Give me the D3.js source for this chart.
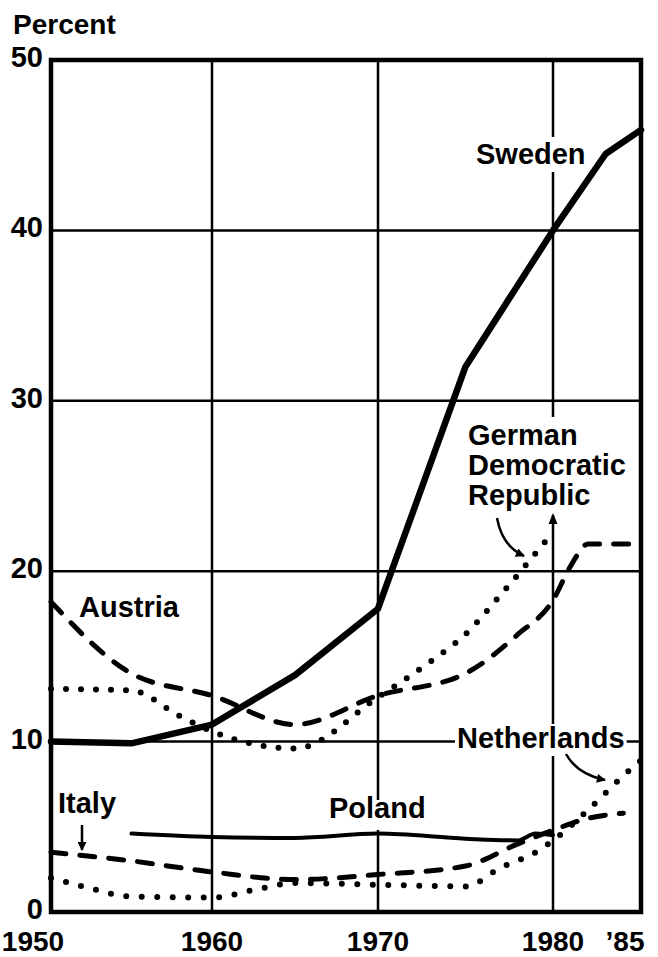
<!DOCTYPE html>
<html>
<head>
<meta charset="utf-8">
<script src="https://cdn.jsdelivr.net/npm/d3@7"></script>
<style>
  html, body { margin: 0; padding: 0; background: #fff; }
  svg { display: block; }
  text { font-family: "Liberation Sans", Arial, Helvetica, sans-serif; font-weight: bold; fill: #000; }
</style>
</head>
<body>
<script>
// ---------- data ----------
const xTickYears = [1950, 1960, 1970, 1980, 1985];
const xTickLabels = ["1950", "1960", "1970", "1980", "\u201985"];
const yTicks = [0, 10, 20, 30, 40, 50];
const xGridYears = [1960, 1970, 1980];
const yGridValues = [10, 20, 30, 40];

const swedenYears  = [1950, 1955, 1960, 1965, 1970, 1975, 1980, 1982, 1983, 1985];
const swedenValues = [10.0, 9.9, 11.0, 13.9, 17.8, 32.0, 40.0, 43.0, 44.5, 45.9];

const austriaYears  = [1950, 1955, 1960, 1965, 1970, 1975, 1978, 1980, 1981, 1982, 1985];
const austriaValues = [18.2, 14.0, 12.7, 11.0, 12.7, 14.0, 16.3, 18.3, 20.3, 21.6, 21.6];

const gdrYears  = [1950, 1955, 1958, 1960, 1965, 1970, 1973, 1975, 1977, 1980];
const gdrValues = [13.1, 13.0, 11.5, 10.6, 9.6, 12.6, 14.7, 16.3, 18.6, 22.3];

const italyYears  = [1950, 1955, 1960, 1965, 1970, 1975, 1978, 1980, 1982, 1984];
const italyValues = [3.5, 3.0, 2.35, 1.9, 2.2, 2.7, 4.0, 4.8, 5.5, 5.8];

const netherlandsYears  = [1950, 1952, 1955, 1960, 1963, 1965, 1970, 1975, 1977, 1979, 1980, 1982, 1984, 1985];
const netherlandsValues = [2.0, 1.5, 0.9, 0.85, 1.4, 1.7, 1.6, 1.5, 2.6, 3.5, 4.2, 6.0, 8.0, 8.9];

const polandYears  = [1955, 1960, 1965, 1970, 1975, 1978, 1979, 1980];
const polandValues = [4.6, 4.4, 4.35, 4.6, 4.3, 4.2, 4.6, 4.5];

// ---------- layout ----------
const W = 658, H = 957;
const x = d3.scaleLinear().domain([1950, 1960, 1970, 1980, 1985]).range([51, 212, 378, 553, 641]);
const y = d3.scaleLinear().domain([0, 50]).range([912, 60]);

const svg = d3.select("body").append("svg").attr("width", W).attr("height", H);
svg.append("rect").attr("width", W).attr("height", H).attr("fill", "#fff");

const defs = svg.append("defs");
defs.append("marker").attr("id", "arrow")
  .attr("viewBox", "0 0 10 10").attr("refX", 9).attr("refY", 5)
  .attr("markerWidth", 10).attr("markerHeight", 9)
  .attr("markerUnits", "userSpaceOnUse").attr("orient", "auto")
  .append("path").attr("d", "M0,0 L10,5 L0,10 z").attr("fill", "#000");

const gGrid = svg.append("g");
const gBg = svg.append("g");
const gLines = svg.append("g");
const gLabels = svg.append("g");
const gFrame = svg.append("g");

// grid
gGrid.selectAll("line.v").data(xGridYears).join("line")
  .attr("x1", d => x(d)).attr("x2", d => x(d)).attr("y1", y(50)).attr("y2", y(0))
  .attr("stroke", "#000").attr("stroke-width", 2.5);
gGrid.selectAll("line.h").data(yGridValues).join("line")
  .attr("x1", x(1950)).attr("x2", x(1985)).attr("y1", d => y(d)).attr("y2", d => y(d))
  .attr("stroke", "#000").attr("stroke-width", 2.5);

// series
function series(years, values) { return years.map((yr, i) => [yr, values[i]]); }
const lineLinear = d3.line().x(d => x(d[0])).y(d => y(d[1]));
const lineSmooth = d3.line().x(d => x(d[0])).y(d => y(d[1])).curve(d3.curveMonotoneX);

const seriesDefs = [
  { data: series(swedenYears, swedenValues), gen: lineLinear, w: 6.5, dash: null },
  { data: series(polandYears, polandValues), gen: lineSmooth, w: 4, dash: null },
  { data: series(austriaYears, austriaValues), gen: lineSmooth, w: 5, dash: "15 14" },
  { data: series(italyYears, italyValues), gen: lineSmooth, w: 5, dash: "15 14" },
  { data: series(gdrYears, gdrValues), gen: lineSmooth, w: 6, dash: "0 15" },
  { data: series(netherlandsYears, netherlandsValues), gen: lineSmooth, w: 6, dash: "0 15.5" },
];
seriesDefs.forEach(s => {
  gLines.append("path").attr("d", s.gen(s.data))
    .attr("fill", "none").attr("stroke", "#000").attr("stroke-width", s.w)
    .attr("stroke-linecap", "round").attr("stroke-linejoin", "round")
    .attr("stroke-dasharray", s.dash);
});

// labels with knock-out backgrounds
const labels = [
  { lines: ["Sweden"], x: 476, y: 164, pt: 1, pb: 2 },
  { lines: ["German", "Democratic", "Republic"], x: 468, y: 445, lh: 30, pt: 2, pb: 4 },
  { lines: ["Austria"], x: 79, y: 617, pt: 0, pb: 0 },
  { lines: ["Netherlands"], x: 457, y: 748, pt: -2, pb: 2 },
  { lines: ["Italy"], x: 58, y: 813, pt: 0, pb: 0 },
  { lines: ["Poland"], x: 329, y: 818, pt: -8, pb: 6 },
];
labels.forEach(l => {
  const t = gLabels.append("text").attr("x", l.x).attr("y", l.y).attr("font-size", 29);
  l.lines.forEach((ln, i) => {
    t.append("tspan").attr("x", l.x).attr("dy", i === 0 ? 0 : (l.lh || 30)).text(ln);
  });
  const b = t.node().getBBox();
  gBg.append("rect").attr("x", b.x - 2).attr("y", b.y - l.pt)
    .attr("width", b.width + 4).attr("height", b.height + l.pt + l.pb).attr("fill", "#fff");
});

// arrowhead at GDR-label end of the 1980 gridline
gLabels.append("path")
  .attr("d", `M${x(1980)},513 L${x(1980) - 4.5},524 L${x(1980) + 4.5},524 Z`).attr("fill", "#000");

// annotation arrows
const arrows = [
  "M497,518 Q502,546 524,556",
  "M566,754 Q577,774 605,780",
  "M82,825 L82,850",
];
arrows.forEach(d => {
  gLabels.append("path").attr("d", d).attr("fill", "none").attr("stroke", "#000")
    .attr("stroke-width", 2.5).attr("marker-end", "url(#arrow)");
});

// frame
gFrame.append("rect").attr("x", x(1950)).attr("y", y(50))
  .attr("width", x(1985) - x(1950)).attr("height", y(0) - y(50))
  .attr("fill", "none").attr("stroke", "#000").attr("stroke-width", 4.5);

// axis labels
gFrame.selectAll("text.yt").data(yTicks).join("text")
  .attr("x", 43).attr("y", d => y(d) + 7).attr("text-anchor", "end")
  .attr("font-size", 29).text(d => d);

const xLabelOffsets = [-18, 0, 0, 0, -16];
gFrame.selectAll("text.xt").data(xTickYears).join("text")
  .attr("x", (d, i) => x(d) + xLabelOffsets[i]).attr("y", 951).attr("text-anchor", "middle")
  .attr("font-size", 28).text((d, i) => xTickLabels[i]);

gFrame.append("text").attr("x", 13).attr("y", 34).attr("font-size", 28).text("Percent");
</script>
</body>
</html>
